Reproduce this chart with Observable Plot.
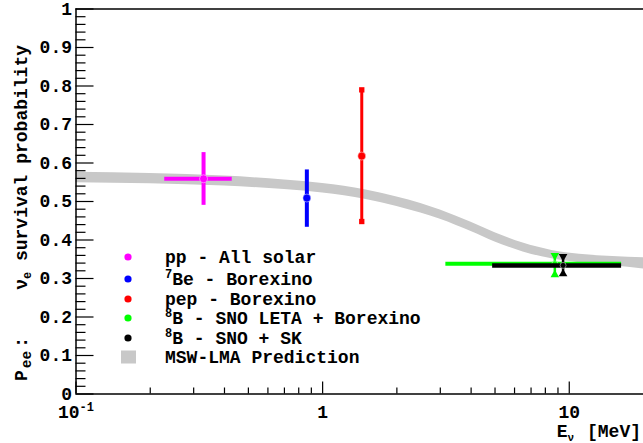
<!DOCTYPE html>
<html><head><meta charset="utf-8">
<script src="https://cdn.jsdelivr.net/npm/d3@7"></script>
<script src="https://cdn.jsdelivr.net/npm/@observablehq/plot@0.6"></script>
<style>
body{margin:0;background:#fff;}
#chart svg{display:block;}
</style>
</head><body><div id="chart"></div>
<script>
// ---- data ----
const names   = ["pp - All solar", "7Be - Borexino", "pep - Borexino", "8B - SNO LETA + Borexino", "8B - SNO + SK"];
const energy  = [0.329, 0.863, 1.441, 8.74, 9.44];
const energyLo = [0.229, null, null, 3.16, 4.89];
const energyHi = [0.430, null, null, 16.3, 16.3];
const prob    = [0.559, 0.509, 0.618, 0.338, 0.334];
const probLo  = [0.490, 0.433, 0.448, 0.310, 0.312];
const probHi  = [0.627, 0.582, 0.790, 0.360, 0.357];

const bandLabel = "MSW-LMA Prediction";
const bandE  = [0.1, 0.2, 0.4, 0.7, 1.0, 1.5, 2.0, 2.5, 3.0, 4.0, 5.0, 6.5, 8.5, 11, 15, 20];
const bandLo = [0.549, 0.546, 0.540, 0.531, 0.522, 0.505, 0.487, 0.470, 0.454, 0.422, 0.395, 0.369, 0.351, 0.341, 0.333, 0.325];
const bandHi = [0.576, 0.573, 0.566, 0.556, 0.547, 0.530, 0.512, 0.495, 0.478, 0.446, 0.419, 0.392, 0.373, 0.363, 0.357, 0.354];

const yMajor = [0, 0.1, 0.2, 0.3, 0.4, 0.5, 0.6, 0.7, 0.8, 0.9, 1];
const yTickLabels = ["0", "0.1", "0.2", "0.3", "0.4", "0.5", "0.6", "0.7", "0.8", "0.9", "1"];
const xMajor = [0.1, 1, 10];
const xTickLabels = ["10^-1", "1", "10"];
const xMinor = [0.2, 0.3, 0.4, 0.5, 0.6, 0.7, 0.8, 0.9, 2, 3, 4, 5, 6, 7, 8, 9];

// ---- styles ----
const FONT = "Liberation Mono, DejaVu Sans Mono, monospace";
const colors = ["#ff00ff", "#0000ff", "#ff0000", "#00ff00", "#000000"];
const hWidth = [4, 0, 0, 4, 4.5];
const vWidth = [4, 4, 3, 2.5, 2.5];
const caps   = [null, null, "square", "triangle", "triangle"];
const drawOrder = [3, 4, 0, 1, 2];
const bandColor = "#c8c8c8";

const W = 643, H = 443, mL = 75.5, mR = 0, mT = 8.5, mB = 49.5;
const pw = W - mL - mR, ph = H - mT - mB;

const band = bandE.map((E, i) => ({E, lo: bandLo[i], hi: bandHi[i]}));
const pts = names.map((name, i) => ({name, E: energy[i], Elo: energyLo[i], Ehi: energyHi[i], p: prob[i], plo: probLo[i], phi: probHi[i]}));
const yMinor = d3.range(0, 51).map(k => k / 50).filter(v => Math.round(v * 50) % 5 !== 0);

const marks = [
  Plot.areaY(band, {x: "E", y1: "lo", y2: "hi", fill: bandColor, curve: "monotone-x"}),
  Plot.ruleY(yMinor, {insetRight: pw - 10, stroke: "#000", strokeWidth: 1.2}),
  Plot.ruleY(yMajor, {insetRight: pw - 18, stroke: "#000", strokeWidth: 1.2}),
  Plot.ruleX(xMinor, {insetTop: ph - 6, stroke: "#000", strokeWidth: 1.2}),
  Plot.ruleX(xMajor, {insetTop: ph - 12, stroke: "#000", strokeWidth: 1.2}),
  Plot.ruleX([0.1], {stroke: "#000", strokeWidth: 1.5}),
  Plot.ruleY([0, 1], {stroke: "#000", strokeWidth: 1.5}),
  Plot.axisY({ticks: yMajor, tickSize: 0, tickPadding: 4, label: null, tickFormat: d => yTickLabels[yMajor.indexOf(d)]}),
  Plot.axisX({ticks: xMajor, tickSize: 0, tickPadding: 11, label: null, tickFormat: d => xTickLabels[xMajor.indexOf(d)]})
];

for (const i of drawOrder) {
  const d = [pts[i]];
  const c = colors[i];
  if (pts[i].Elo != null) marks.push(Plot.ruleY(d, {y: "p", x1: "Elo", x2: "Ehi", stroke: c, strokeWidth: hWidth[i]}));
  marks.push(Plot.ruleX(d, {x: "E", y1: "plo", y2: "phi", stroke: c, strokeWidth: vWidth[i]}));
  if (caps[i] === "square") {
    marks.push(Plot.dot(d, {x: "E", y: "plo", symbol: "square", r: 3, fill: c}));
    marks.push(Plot.dot(d, {x: "E", y: "phi", symbol: "square", r: 3, fill: c}));
  } else if (caps[i] === "triangle") {
    marks.push(Plot.dot(d, {x: "E", y: "plo", symbol: "triangle", r: 3.2, fill: c}));
    marks.push(Plot.dot(d, {x: "E", y: "phi", symbol: "triangle", r: 3.2, fill: c, rotate: 180}));
  }
  marks.push(Plot.dot(d, {x: "E", y: "p", r: i >= 3 ? 3 : 4, fill: c, stroke: "#fff", strokeWidth: 0.8, strokeOpacity: 0.6}));
}

const chart = Plot.plot({
  width: W, height: H,
  marginLeft: mL, marginRight: mR, marginTop: mT, marginBottom: mB,
  x: {type: "log", domain: [0.1, 20]},
  y: {domain: [0, 1]},
  style: `font-family: ${FONT}; font-size: 18px; font-weight: bold; color: #000; background: #fff; overflow: visible;`,
  marks
});
document.getElementById("chart").appendChild(chart);

const svg = d3.select(chart);
// superscript on 10^-1
svg.selectAll("text").filter(function(){ return this.textContent === "10^-1"; }).each(function(){
  const t = d3.select(this);
  t.text("10");
  t.append("tspan").attr("font-size", 12).attr("dy", -7).text("-1");
});

// y axis title (two pieces, as in the reference spacing)
const yt = svg.append("text").attr("transform", "translate(27,45) rotate(-90)").attr("text-anchor", "end");
yt.append("tspan").text("\u03bd");
yt.append("tspan").attr("font-size", 12).attr("dy", 4).text("e");
yt.append("tspan").attr("dy", -4).text(" survival probability");

const yp = svg.append("text").attr("transform", "translate(27,381) rotate(-90)").attr("text-anchor", "start");
yp.append("tspan").text("P");
yp.append("tspan").attr("font-size", 14.5).attr("dy", 4).attr("dx", 2).text("ee");
yp.append("tspan").attr("dy", -4).attr("dx", 3).text(":");

// x axis title
const xt = svg.append("text").attr("x", 641).attr("y", 437).attr("text-anchor", "end");
xt.append("tspan").text("E");
xt.append("tspan").attr("font-size", 11).attr("dy", 4).text("\u03bd");
xt.append("tspan").attr("dy", -4).attr("dx", 2).text(" [MeV]");

// legend
const lg = svg.append("g").attr("text-anchor", "start");
const rowY = [257, 279, 299, 318, 338, 357];
names.forEach((n, i) => {
  lg.append("circle").attr("cx", 128).attr("cy", rowY[i]).attr("r", 3.6).attr("fill", colors[i]);
  const t = lg.append("text").attr("x", 165).attr("y", rowY[i] + 6).attr("text-anchor", "start");
  const m = n.match(/^(\d)(.*)$/);
  if (m) {
    t.append("tspan").attr("font-size", 12).attr("dy", -7).text(m[1]);
    t.append("tspan").attr("dy", 7).text(m[2]);
  } else t.text(n);
});
lg.append("rect").attr("x", 121).attr("y", rowY[5] - 6.5).attr("width", 15).attr("height", 13).attr("fill", bandColor);
lg.append("text").attr("x", 165).attr("y", rowY[5] + 6).attr("text-anchor", "start").text(bandLabel);

// force monospace font on all text
svg.selectAll("text").attr("font-family", FONT).attr("font-weight", "bold");
</script>
</body></html>
